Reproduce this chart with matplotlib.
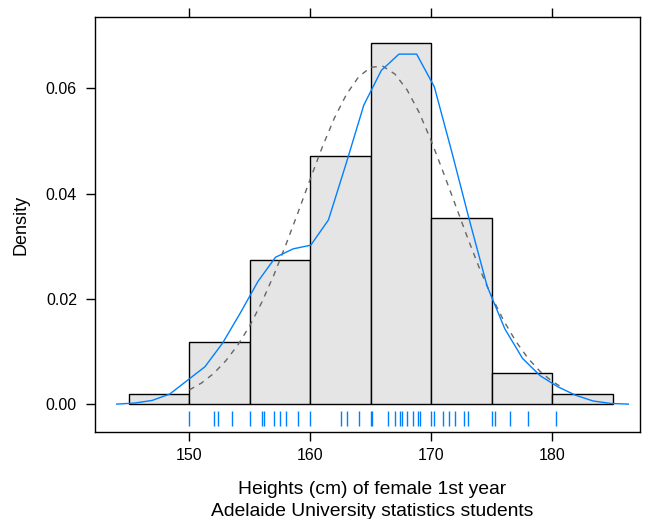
import numpy as np
import matplotlib
matplotlib.use("Agg")
import matplotlib.pyplot as plt

plt.rcParams['font.family'] = ['Liberation Sans', 'DejaVu Sans']

# histogram: 5 cm bins, counts of students
bin_edges = [145, 150, 155, 160, 165, 170, 175, 180, 185]
counts = [1, 6, 14, 24, 35, 18, 3, 1]

# individual heights shown in the rug (distinct values)
rug_heights = [150.0, 152.0, 152.4, 153.5, 155.0, 156.0, 156.2, 157.0, 157.5,
               158.0, 159.0, 160.0, 162.5, 163.0, 164.0, 165.0, 165.1, 166.4,
               167.0, 167.4, 167.6, 168.0, 168.5, 168.9, 169.1, 170.0, 170.2,
               171.0, 171.5, 172.0, 172.7, 173.0, 175.0, 175.3, 176.5, 178.0,
               180.3]

# kernel density curve (blue)
kde_x = [144.0, 145.46, 146.92, 148.37, 149.83, 151.29, 152.75, 154.21, 155.67,
         157.12, 158.58, 160.04, 161.5, 162.96, 164.42, 165.87, 167.33, 168.79,
         170.25, 171.71, 173.17, 174.62, 176.08, 177.54, 179.0, 180.46, 181.92,
         183.37, 184.83, 186.29]
kde_y = [0.0, 0.0002, 0.0007, 0.0019, 0.0045, 0.0071, 0.0116, 0.0173, 0.0233,
         0.0279, 0.0295, 0.0302, 0.0350, 0.0457, 0.0568, 0.0634, 0.0665, 0.0665,
         0.0603, 0.0478, 0.0348, 0.0224, 0.0143, 0.0087, 0.0054, 0.0033, 0.0017,
         0.0006, 0.00013, 0.0]

# fitted normal curve (dashed grey)
norm_x = [150, 151, 152, 153, 154, 155, 156, 157, 158, 159, 160, 161, 162, 163,
          164, 165, 166, 167, 168, 169, 170, 171, 172, 173, 174, 175, 176, 177,
          178, 179, 180, 180.8]
norm_y = [0.0027, 0.0040, 0.0058, 0.0082, 0.0112, 0.0149, 0.0194, 0.0246,
          0.0304, 0.0365, 0.0428, 0.0489, 0.0544, 0.0589, 0.0622, 0.0640,
          0.0642, 0.0627, 0.0597, 0.0554, 0.0500, 0.0440, 0.0378, 0.0316,
          0.0257, 0.0204, 0.0158, 0.0119, 0.0087, 0.0062, 0.0043, 0.0032]

n = sum(counts)
widths = np.diff(bin_edges)
density = np.array(counts) / (n * widths)

fig = plt.figure(figsize=(6.47, 5.19), dpi=100)
ax = fig.add_axes([0.1468, 0.1676, 0.8423, 0.7991])

ax.bar(bin_edges[:-1], density, width=widths, align="edge",
       color="#E5E5E5", edgecolor="black", linewidth=1.0, zorder=1)
ax.plot(norm_x, norm_y, color="#666666", linestyle=(0, (4, 4)), linewidth=1.0, zorder=2)
ax.plot(kde_x, kde_y, color="#0080FF", linewidth=1.0, zorder=3)
ax.vlines(rug_heights, 0.015, 0.05, transform=ax.get_xaxis_transform(),
          color="#0080FF", linewidth=1.0, zorder=3)

ax.set_xlim(142.2, 187.25)
ax.set_ylim(-0.0053, 0.0735)
ax.set_xticks([150, 160, 170, 180])
ax.set_yticks([0.00, 0.02, 0.04, 0.06])
ax.set_yticklabels(["0.00", "0.02", "0.04", "0.06"])

ax.tick_params(axis="x", direction="out", length=6.5, width=1, top=True,
               labeltop=False, labelsize=11.5, pad=5)
ax.tick_params(axis="y", direction="out", length=6.5, width=1, right=False,
               labelsize=11.5, pad=6.5)
for s in ax.spines.values():
    s.set_linewidth(1.0)

ax.set_ylabel("Density", fontsize=13, labelpad=12)
ax.set_xlabel("Heights (cm) of female 1st year\nAdelaide University statistics students",
              fontsize=13.9, linespacing=1.4)
ax.xaxis.set_label_coords(0.509, -0.118)
ax.xaxis.label.set_verticalalignment("top")

fig.savefig("out.png", dpi=100)
